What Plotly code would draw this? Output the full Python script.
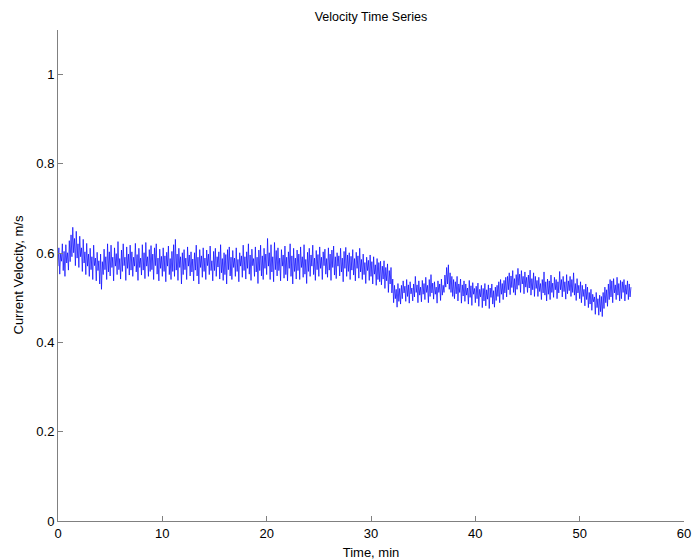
import plotly.graph_objects as go

# Current velocity samples (m/s), one every 5 s; each row is one minute of record
velocity = [
    0.571, 0.612, 0.553, 0.598, 0.582, 0.621, 0.561, 0.604, 0.548, 0.619, 0.578, 0.601,
    0.562, 0.628, 0.581, 0.641, 0.592, 0.658, 0.601, 0.633, 0.572, 0.649, 0.589, 0.621,
    0.568, 0.638, 0.592, 0.612, 0.559, 0.631, 0.578, 0.603, 0.552, 0.622, 0.571, 0.598,
    0.548, 0.611, 0.563, 0.592, 0.541, 0.618, 0.572, 0.589, 0.538, 0.602, 0.561, 0.583,
    0.531, 0.598, 0.519, 0.581, 0.552, 0.609, 0.563, 0.592, 0.541, 0.621, 0.558, 0.603,
    0.549, 0.618, 0.568, 0.591, 0.538, 0.612, 0.571, 0.599, 0.552, 0.626, 0.563, 0.588,
    0.542, 0.607, 0.559, 0.621, 0.572, 0.591, 0.539, 0.614, 0.566, 0.598, 0.551, 0.618,
    0.562, 0.603, 0.548, 0.591, 0.571, 0.622, 0.558, 0.597, 0.539, 0.611, 0.568, 0.589,
    0.551, 0.619, 0.562, 0.601, 0.543, 0.624, 0.571, 0.592, 0.548, 0.608, 0.559, 0.617,
    0.563, 0.598, 0.541, 0.612, 0.572, 0.621, 0.553, 0.589, 0.538, 0.609, 0.566, 0.593,
    0.548, 0.612, 0.559, 0.594, 0.536, 0.602, 0.571, 0.616, 0.552, 0.588, 0.541, 0.604,
    0.559, 0.619, 0.548, 0.631, 0.562, 0.598, 0.539, 0.611, 0.568, 0.592, 0.531, 0.601,
    0.552, 0.608, 0.563, 0.589, 0.541, 0.614, 0.571, 0.596, 0.549, 0.603, 0.558, 0.587,
    0.538, 0.601, 0.562, 0.618, 0.549, 0.591, 0.531, 0.608, 0.568, 0.594, 0.546, 0.612,
    0.559, 0.589, 0.541, 0.607, 0.572, 0.598, 0.552, 0.616, 0.561, 0.583, 0.538, 0.604,
    0.561, 0.611, 0.548, 0.592, 0.569, 0.603, 0.542, 0.619, 0.556, 0.588, 0.539, 0.601,
    0.552, 0.597, 0.531, 0.608, 0.563, 0.614, 0.549, 0.591, 0.541, 0.606, 0.568, 0.589,
    0.548, 0.612, 0.559, 0.586, 0.536, 0.601, 0.571, 0.594, 0.546, 0.618, 0.561, 0.592,
    0.542, 0.603, 0.566, 0.621, 0.553, 0.596, 0.539, 0.609, 0.572, 0.588, 0.548, 0.614,
    0.558, 0.591, 0.532, 0.607, 0.561, 0.618, 0.549, 0.594, 0.541, 0.611, 0.566, 0.598,
    0.552, 0.633, 0.571, 0.601, 0.541, 0.619, 0.558, 0.592, 0.536, 0.624, 0.563, 0.606,
    0.549, 0.612, 0.561, 0.589, 0.538, 0.608, 0.571, 0.596, 0.544, 0.616, 0.552, 0.591,
    0.538, 0.603, 0.566, 0.621, 0.548, 0.594, 0.531, 0.611, 0.559, 0.589, 0.542, 0.607,
    0.561, 0.598, 0.541, 0.614, 0.568, 0.592, 0.546, 0.619, 0.553, 0.586, 0.532, 0.602,
    0.559, 0.611, 0.548, 0.596, 0.571, 0.618, 0.552, 0.589, 0.539, 0.606, 0.563, 0.597,
    0.548, 0.614, 0.566, 0.591, 0.541, 0.603, 0.572, 0.609, 0.553, 0.588, 0.546, 0.612,
    0.562, 0.598, 0.539, 0.607, 0.568, 0.616, 0.551, 0.592, 0.543, 0.601, 0.571, 0.594,
    0.549, 0.611, 0.558, 0.589, 0.536, 0.604, 0.566, 0.613, 0.548, 0.596, 0.559, 0.601,
    0.541, 0.593, 0.562, 0.608, 0.551, 0.588, 0.538, 0.602, 0.566, 0.594, 0.544, 0.611,
    0.558, 0.586, 0.541, 0.598, 0.552, 0.579, 0.532, 0.591, 0.561, 0.584, 0.539, 0.596,
    0.548, 0.581, 0.531, 0.592, 0.553, 0.574, 0.528, 0.588, 0.541, 0.579, 0.536, 0.582,
    0.529, 0.571, 0.542, 0.583, 0.521, 0.568, 0.538, 0.576, 0.512, 0.561, 0.531, 0.568,
    0.511, 0.542, 0.489, 0.528, 0.498, 0.519, 0.479, 0.532, 0.492, 0.521, 0.486, 0.528,
    0.498, 0.538, 0.511, 0.526, 0.492, 0.541, 0.503, 0.529, 0.488, 0.536, 0.509, 0.522,
    0.493, 0.531, 0.502, 0.548, 0.512, 0.529, 0.489, 0.538, 0.506, 0.524, 0.491, 0.539,
    0.508, 0.532, 0.496, 0.546, 0.512, 0.528, 0.489, 0.541, 0.503, 0.552, 0.511, 0.533,
    0.497, 0.536, 0.508, 0.524, 0.488, 0.538, 0.512, 0.531, 0.494, 0.542, 0.506, 0.528,
    0.512, 0.551, 0.524, 0.568, 0.531, 0.574, 0.519, 0.556, 0.512, 0.548, 0.503, 0.541,
    0.498, 0.536, 0.509, 0.548, 0.493, 0.531, 0.512, 0.542, 0.488, 0.529, 0.504, 0.538,
    0.492, 0.531, 0.506, 0.522, 0.486, 0.539, 0.501, 0.527, 0.483, 0.534, 0.508, 0.521,
    0.489, 0.526, 0.498, 0.533, 0.481, 0.519, 0.502, 0.528, 0.478, 0.521, 0.493, 0.532,
    0.482, 0.518, 0.497, 0.529, 0.476, 0.522, 0.501, 0.531, 0.486, 0.516, 0.479, 0.524,
    0.494, 0.528, 0.503, 0.536, 0.489, 0.541, 0.508, 0.532, 0.496, 0.539, 0.511, 0.546,
    0.502, 0.548, 0.518, 0.556, 0.507, 0.549, 0.523, 0.561, 0.512, 0.543, 0.506, 0.552,
    0.519, 0.566, 0.528, 0.553, 0.512, 0.561, 0.531, 0.548, 0.509, 0.558, 0.524, 0.546,
    0.512, 0.551, 0.522, 0.562, 0.506, 0.543, 0.518, 0.556, 0.503, 0.548, 0.521, 0.539,
    0.503, 0.546, 0.514, 0.532, 0.496, 0.541, 0.511, 0.558, 0.506, 0.536, 0.493, 0.542,
    0.508, 0.538, 0.496, 0.551, 0.512, 0.533, 0.501, 0.546, 0.518, 0.541, 0.498, 0.536,
    0.511, 0.559, 0.518, 0.541, 0.502, 0.548, 0.514, 0.536, 0.497, 0.552, 0.509, 0.538,
    0.516, 0.548, 0.503, 0.541, 0.512, 0.556, 0.506, 0.532, 0.494, 0.543, 0.511, 0.528,
    0.498, 0.536, 0.489, 0.528, 0.503, 0.519, 0.482, 0.531, 0.496, 0.524, 0.478, 0.512,
    0.486, 0.519, 0.472, 0.508, 0.491, 0.502, 0.463, 0.512, 0.478, 0.498, 0.461, 0.506,
    0.469, 0.503, 0.458, 0.512, 0.476, 0.524, 0.489, 0.518, 0.481, 0.531, 0.496, 0.541,
    0.502, 0.538, 0.489, 0.543, 0.511, 0.529, 0.496, 0.546, 0.506, 0.532, 0.493, 0.539,
    0.498, 0.536, 0.512, 0.541, 0.493, 0.529, 0.508, 0.538, 0.496, 0.531, 0.502, 0.524,
]
sample_minutes = 5 / 60
time_min = [i * sample_minutes for i in range(len(velocity))]

x_ticks = [0, 10, 20, 30, 40, 50, 60]
y_ticks = [0, 0.2, 0.4, 0.6, 0.8, 1]
y_tick_labels = ["0", "0.2", "0.4", "0.6", "0.8", "1"]

font = "Liberation Sans, Arial, Helvetica, sans-serif"

fig = go.Figure(
    go.Scatter(
        x=time_min,
        y=velocity,
        mode="lines",
        line=dict(color="#0000ff", width=0.7),
        hoverinfo="x+y",
    )
)

axis_common = dict(
    showgrid=False,
    zeroline=False,
    showline=True,
    linecolor="#808080",
    linewidth=1,
    ticks="inside",
    ticklen=5,
    tickcolor="#808080",
    tickfont=dict(family=font, size=13, color="black"),
    mirror=False,
    automargin=False,
)

fig.update_layout(
    width=693,
    height=560,
    margin=dict(l=58, r=9, t=30, b=39),
    paper_bgcolor="white",
    plot_bgcolor="white",
    showlegend=False,
    title=dict(
        text="Velocity Time Series",
        font=dict(family=font, size=12.5, color="black"),
        x=(58 + 684) / 2 / 693,
        xanchor="center",
        y=1 - 17 / 560,
        yanchor="middle",
    ),
    xaxis=dict(
        range=[0, 60],
        tickvals=x_ticks,
        title=dict(text="Time, min", font=dict(family=font, size=13, color="black")),
        **axis_common,
    ),
    yaxis=dict(
        range=[0, 1.1],
        tickvals=y_ticks,
        ticktext=y_tick_labels,
        **axis_common,
    ),
    annotations=[
        dict(
            text="Current Velocity, m/s",
            textangle=-90,
            xref="paper",
            yref="paper",
            x=(18 - 58) / 626,
            y=0.5,
            xanchor="center",
            yanchor="middle",
            showarrow=False,
            font=dict(family=font, size=13, color="black"),
        )
    ],
)

fig.write_html("out.html")
